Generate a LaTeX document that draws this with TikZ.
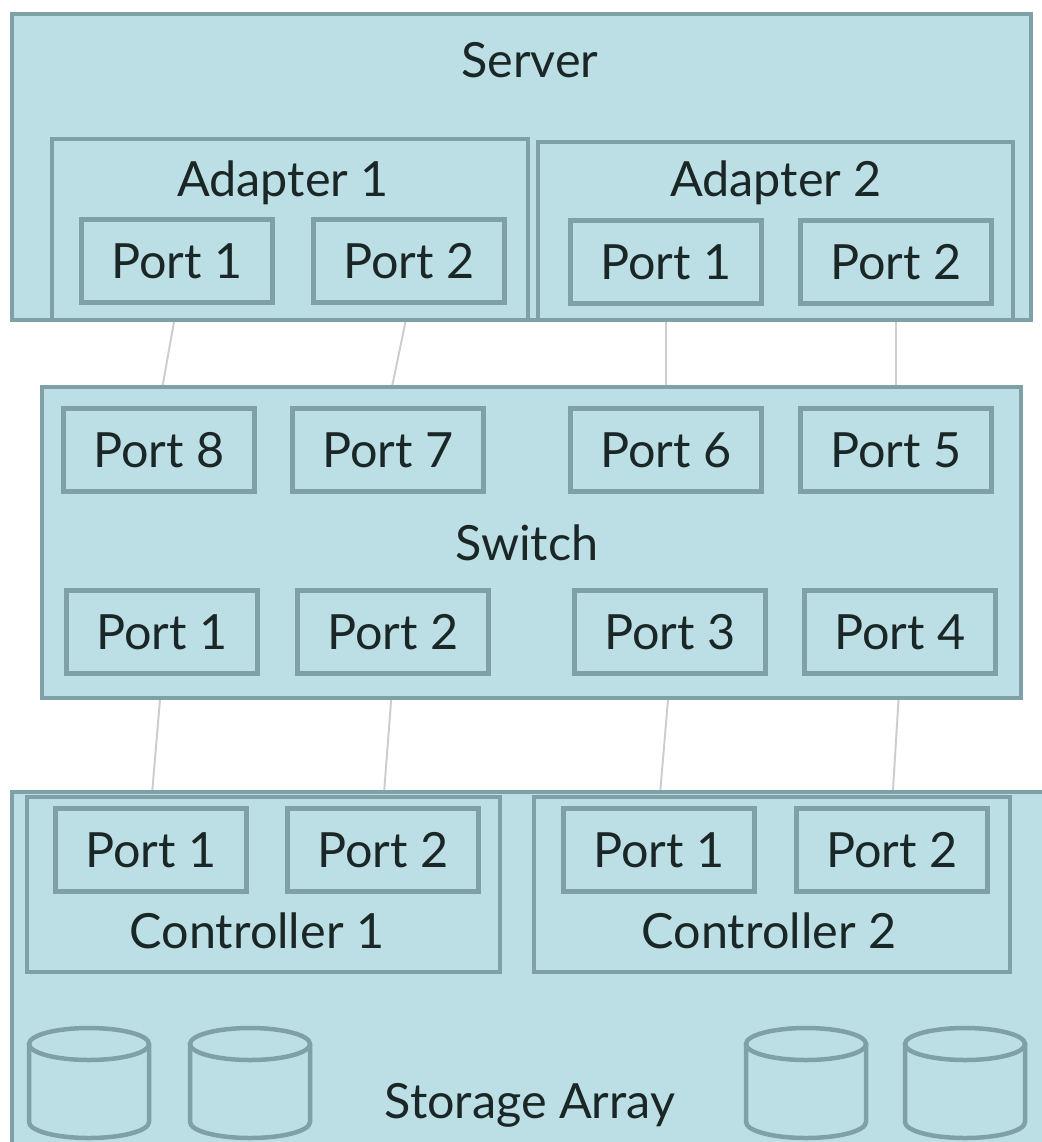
\documentclass[tikz,border=0pt]{standalone}
\usepackage{fontspec}
\setmainfont{Lato}
\usetikzlibrary{fit,backgrounds}
\definecolor{boxfill}{HTML}{BBDFE5}
\definecolor{boxedge}{HTML}{80A0A8}
\definecolor{cablegray}{HTML}{CDCDCD}
\definecolor{ink}{HTML}{1B2626}

\begin{document}
\begin{tikzpicture}[%
  x=0.025cm, y=-0.025cm,
  unit/.style={draw=boxedge, fill=boxfill, line width=3.5pt, inner sep=0pt},
  port/.style={draw=boxedge, fill=boxfill, line width=3.5pt,
    minimum width=4.775cm, minimum height=2.075cm, inner sep=0pt,
    font=\fontsize{34.5}{40}\selectfont, text=ink},
  tag/.style={font=\fontsize{34.5}{40}\selectfont, text=ink, inner sep=0pt},
  disk/.style={draw=boxedge, line width=3.2pt},
  cable/.style={draw=cablegray, line width=1.4pt}]
\useasboundingbox (0,0) rectangle (1041,1142);

% server
\node[unit, fit={(12,14) (1031,320)}] (server) {};
\node[tag] (servername) at (530,60) {Server};
\node[unit, fit={(52,139) (528,320)}] (adapterA) {};
\node[tag] (adapterAname) at (283,183) {Adapter 1};
\node[unit, fit={(538,142) (1013,320)}] (adapterB) {};
\node[tag] (adapterBname) at (776,183) {Adapter 2};
\node[port] (a1p1) at (177,261) {Port 1};
\node[port] (a1p2) at (409,261) {Port 2};
\node[port] (a2p1) at (666,262) {Port 1};
\node[port] (a2p2) at (896,262) {Port 2};

% switch
\node[unit, fit={(42,387) (1021,698)}] (switch) {};
\node[tag] (switchname) at (527,543) {Switch};
\node[port] (sw8) at (159,450) {Port 8};
\node[port] (sw7) at (388,450) {Port 7};
\node[port] (sw6) at (666,450) {Port 6};
\node[port] (sw5) at (896,450) {Port 5};
\node[port] (sw1) at (162,632) {Port 1};
\node[port] (sw2) at (393,632) {Port 2};
\node[port] (sw3) at (670,632) {Port 3};
\node[port] (sw4) at (900,632) {Port 4};

% storage array
\node[unit, fit={(12,792) (1045,1150)}] (storage) {};
\node[tag] (storagename) at (530,1105) {Storage Array};
\node[unit, fit={(27,797) (500,972)}] (ctrlA) {};
\node[tag] (ctrlAname) at (257,931) {Controller 1};
\node[unit, fit={(534,797) (1010,972)}] (ctrlB) {};
\node[tag] (ctrlBname) at (769,931) {Controller 2};
\node[port] (c1p1) at (151,850) {Port 1};
\node[port] (c1p2) at (383,850) {Port 2};
\node[port] (c2p1) at (659,850) {Port 1};
\node[port] (c2p2) at (892,850) {Port 2};

% disks
\foreach \cx in {89,250,806,965} {
  \draw[disk] (\cx-60,1044) -- (\cx-60,1122)
    arc[start angle=180, end angle=0, x radius=60, y radius=16]
    -- (\cx+60,1044);
  \draw[disk] (\cx,1044) ellipse[x radius=60, y radius=16];
}

% cables
\begin{pgfonlayer}{background}
\draw[cable] (a1p1.south) -- (sw8.north);
\draw[cable] (a1p2.south) -- (sw7.north);
\draw[cable] (a2p1.south) -- (sw6.north);
\draw[cable] (a2p2.south) -- (sw5.north);
\draw[cable] (sw1.south) -- (c1p1.north);
\draw[cable] (sw2.south) -- (c1p2.north);
\draw[cable] (sw3.south) -- (c2p1.north);
\draw[cable] (sw4.south) -- (c2p2.north);
\end{pgfonlayer}
\end{tikzpicture}
\end{document}
